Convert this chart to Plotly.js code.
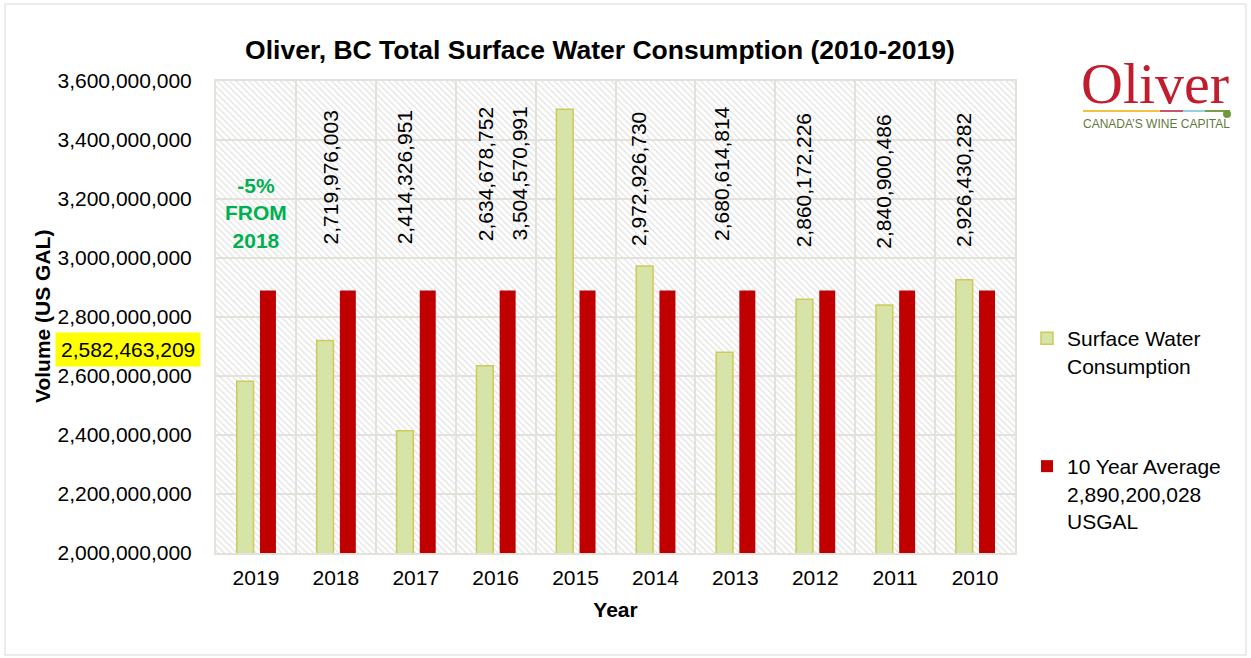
<!DOCTYPE html>
<html>
<head>
<meta charset="utf-8">
<script src="https://cdn.plot.ly/plotly-3.0.1.min.js"></script>
<style>html,body{margin:0;padding:0;background:#fff;}#chart{width:1251px;height:658px;}</style>
</head>
<body>
<div id="chart"></div>
<script>
// ---- data ----
const years = ['2019','2018','2017','2016','2015','2014','2013','2012','2011','2010'];
const consumption = [2582463209, 2719976003, 2414326951, 2634678752, 3504570991, 2972926730, 2680614814, 2860172226, 2840900486, 2926430282];
const tenYearAverage = [2890200028, 2890200028, 2890200028, 2890200028, 2890200028, 2890200028, 2890200028, 2890200028, 2890200028, 2890200028];
const seriesNames = ['Surface Water<br>Consumption', '10 Year Average<br>2,890,200,028<br>USGAL'];
const highlightText = '-5%<br>FROM<br>2018';
const chartTitle = 'Oliver, BC Total Surface Water Consumption (2010-2019)';

// ---- styling ----
const FONT = 'Liberation Sans, Arial, sans-serif';
const fmt = v => v.toLocaleString('en-US');
// pixel -> paper helpers (plot area 216..1015 x 81..553)
const PL = 216, PW = 799, PB = 553, PH = 472;
const px = p => (p - PL) / PW;
const py = p => (PB - p) / PH;

// per-label nudges for the rotated value labels (index into years, skipping 2019)
const labelShiftX = [0, -5, -11, -10, -56, -17, -14, -12, -12, -12];
const labelShiftY = [0, 0.5, 0.5, 3.5, 4, -0.5, 4.5, -2, -3.5, -2];

const traces = [
  {
    type: 'bar', x: years, y: consumption, name: seriesNames[0],
    width: 0.21, offset: -0.24,
    marker: {color: '#d6e4a7', line: {color: '#cfc95a', width: 1.5}},
    legend: 'legend', hoverinfo: 'x+y'
  },
  {
    type: 'bar', x: years, y: tenYearAverage, name: seriesNames[1],
    width: 0.2, offset: 0.05,
    marker: {color: '#c00000', line: {width: 0}},
    legend: 'legend2', hoverinfo: 'x+y'
  }
];

const annotations = [];
years.forEach((yr, i) => {
  if (i === 0) return;
  annotations.push({
    x: i, y: 3271000000, xref: 'x', yref: 'y',
    text: fmt(consumption[i]), textangle: -90, showarrow: false,
    xanchor: 'center', yanchor: 'middle',
    xshift: labelShiftX[i], yshift: labelShiftY[i],
    font: {family: FONT, size: 21, color: '#000'}
  });
});
annotations.push({
  x: 0, y: 3152500000, xref: 'x', yref: 'y', text: highlightText,
  showarrow: false, xanchor: 'center', yanchor: 'middle',
  font: {family: FONT, size: 21, color: '#00b050', weight: 'bold'}
});
annotations.push({
  x: px(127.5), y: py(349), xref: 'paper', yref: 'paper',
  text: fmt(consumption[0]), showarrow: false, xanchor: 'center', yanchor: 'middle',
  bgcolor: '#ffff00', borderpad: 5,
  font: {family: FONT, size: 21, color: '#000'}
});
annotations.push({
  x: px(42), y: 0.5, xref: 'paper', yref: 'paper', text: 'Volume (US GAL)',
  textangle: -90, showarrow: false, xanchor: 'center', yanchor: 'middle',
  font: {family: FONT, size: 21, color: '#000', weight: 'bold'}
});
// logo
annotations.push({
  x: px(1155), y: py(84), xref: 'paper', yref: 'paper', text: 'Oliver',
  showarrow: false, xanchor: 'center', yanchor: 'middle',
  font: {family: 'Liberation Serif, Times New Roman, serif', size: 58, color: '#bf1e2e'}
});
annotations.push({
  x: px(1156), y: py(124), xref: 'paper', yref: 'paper', text: 'CANADA’S WINE CAPITAL',
  showarrow: false, xanchor: 'center', yanchor: 'middle',
  font: {family: FONT, size: 12, color: '#5f7a3c'}
});

const seg = (a, b, c) => ({type: 'line', xref: 'paper', yref: 'paper', x0: px(a), x1: px(b), y0: py(111), y1: py(111), line: {color: c, width: 2}});
const shapes = [
  seg(1083, 1160, '#f2c33c'), seg(1160, 1183, '#c8566e'), seg(1183, 1205, '#8fd3e3'), seg(1205, 1230, '#7aa14a'),
  {type: 'circle', xref: 'paper', yref: 'paper', x0: px(1223), x1: px(1231), y0: py(118), y1: py(110), fillcolor: '#6f9a3a', line: {width: 0}},
  {type: 'rect', xref: 'paper', yref: 'paper', x0: px(5), x1: px(1246), y0: py(655), y1: py(4), line: {color: '#d9d9d9', width: 1}, layer: 'below'}
];

const hatchSvg = "<svg xmlns='http://www.w3.org/2000/svg' width='799' height='472'><defs><pattern id='p' width='4.5' height='4.5' patternUnits='userSpaceOnUse' patternTransform='rotate(-45)'><rect width='1.3' height='4.5' fill='%23e3e3e3'/></pattern></defs><rect width='100%' height='100%' fill='url(%23p)'/></svg>";

const layout = {
  width: 1251, height: 658,
  margin: {l: 216, r: 236, t: 81, b: 105, pad: 0},
  paper_bgcolor: '#fff', plot_bgcolor: 'rgba(0,0,0,0)',
  font: {family: FONT, size: 21, color: '#000'},
  title: {text: chartTitle, x: 600 / 1251, xanchor: 'center', y: 1 - 50 / 658, yanchor: 'middle', yref: 'container',
          font: {family: FONT, size: 26.5, color: '#000', weight: 'bold'}},
  barmode: 'overlay',
  showlegend: true,
  xaxis: {
    type: 'category', range: [-0.5, 9.5], autorange: false, tickson: 'boundaries', showgrid: true, gridcolor: '#e4e1da', gridwidth: 2,
    showline: true, linecolor: '#e4e1da', linewidth: 2, mirror: true, tickangle: 0,
    ticks: '', ticklabelstandoff: 5, tickfont: {family: FONT, size: 21, color: '#000'},
    title: {text: 'Year', standoff: 14, font: {family: FONT, size: 21, color: '#000', weight: 'bold'}},
    fixedrange: true
  },
  yaxis: {
    range: [2000000000, 3600000000], autorange: false, dtick: 200000000, tick0: 0, tickformat: ',.0f',
    showgrid: true, gridcolor: '#e4e1da', gridwidth: 2,
    showline: true, linecolor: '#e4e1da', linewidth: 2, mirror: true,
    ticks: '', ticklabelstandoff: 18, tickfont: {family: FONT, size: 21, color: '#000'},
    zeroline: false, fixedrange: true
  },
  legend: {x: px(1027), y: py(318), xanchor: 'left', yanchor: 'top', valign: 'top', bgcolor: 'rgba(0,0,0,0)',
           font: {family: FONT, size: 21, color: '#000'}},
  legend2: {x: px(1027), y: py(446), xanchor: 'left', yanchor: 'top', valign: 'top', bgcolor: 'rgba(0,0,0,0)',
           font: {family: FONT, size: 21, color: '#000'}},
  annotations: annotations,
  shapes: shapes,
  images: [{source: 'data:image/svg+xml;utf8,' + hatchSvg, xref: 'paper', yref: 'paper', x: 0, y: 1, sizex: 1, sizey: 1,
            xanchor: 'left', yanchor: 'top', sizing: 'stretch', layer: 'below'}]
};

Plotly.newPlot('chart', traces, layout, {displayModeBar: false, staticPlot: true});
</script>
</body>
</html>
